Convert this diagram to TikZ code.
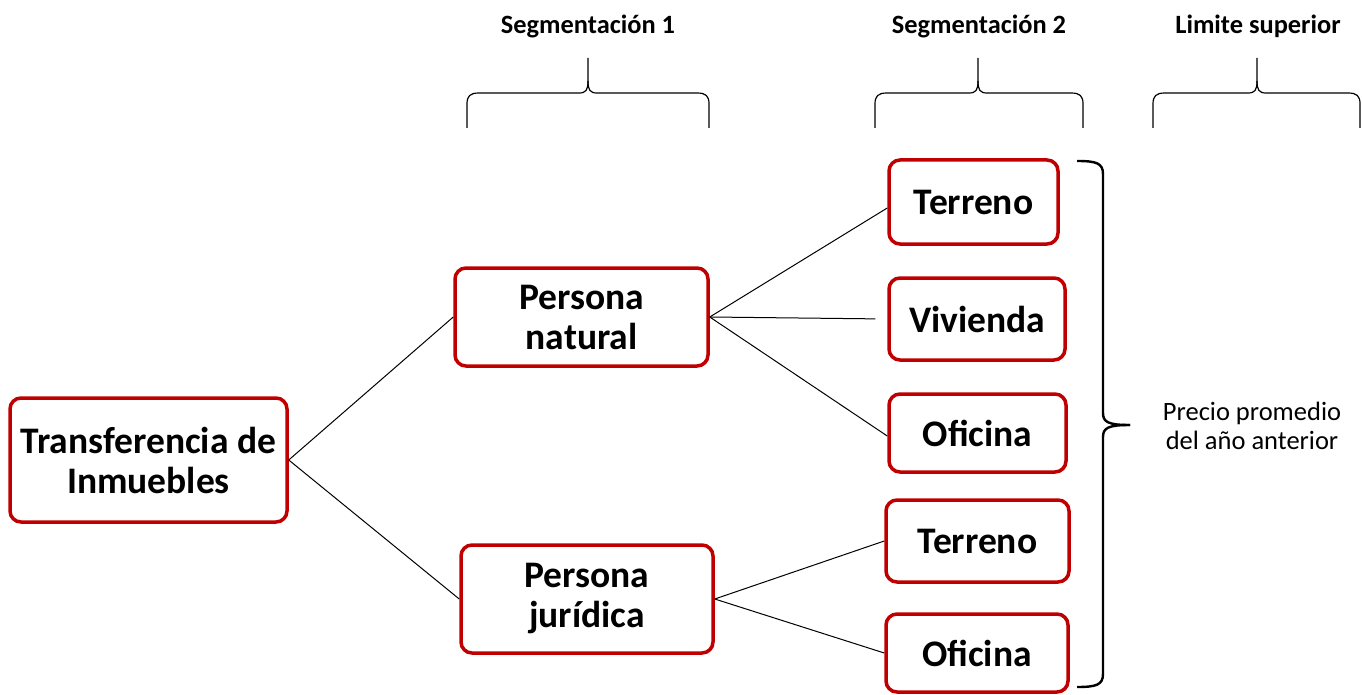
\documentclass[tikz,border=0pt]{standalone}
\usepackage{fontspec}
\setmainfont{Carlito}
\definecolor{boxred}{RGB}{192,0,0}
\newcommand{\topbrace}[3]{%
  \draw[bracestyle] (#1,128) -- (#1,104) .. controls (#1,96) and (#1+3,93) .. (#1+12,93)
    -- (#2-9,93) .. controls (#2-2,93) and (#2,90) .. (#2,81) -- (#2,58);
  \draw[bracestyle] (#2,81) .. controls (#2,90) and (#2+2,93) .. (#2+9,93)
    -- (#3-12,93) .. controls (#3-3,93) and (#3,96) .. (#3,104) -- (#3,128);}
\tikzset{
  box/.style={draw=boxred, line width=3.5pt, rounded corners=11pt, fill=white,
    align=center, font=\bfseries\fontsize{37.5}{40}\selectfont, inner sep=0pt},
  head/.style={font=\bfseries\fontsize{26.4}{29}\selectfont, inner sep=0pt},
  note/.style={font=\fontsize{26.5}{29}\selectfont, align=center, inner sep=0pt},
  link/.style={draw=black, line width=1pt},
  bracestyle/.style={draw=black, line width=1.2pt},
  bigbrace/.style={draw=black, line width=2.4pt}
}
\begin{document}
\begin{tikzpicture}[x=1pt,y=-1pt]
\useasboundingbox (0,0) rectangle (1362,695);
% headers
\node[head] (h1) at (588,26) {Segmentación 1};
\node[head] (h2) at (979,26) {Segmentación 2};
\node[head] (h3) at (1258,26) {Limite superior};
\topbrace{467}{588}{709}
\topbrace{875}{978}{1083}
\topbrace{1153}{1257}{1360}
% boxes
\node[box, minimum width=277pt, minimum height=124pt] (tr) at (148.5,460) {Transferencia de\\Inmuebles};
\node[box, minimum width=253pt, minimum height=98pt] (pn) at (581.5,317) {Persona\\natural};
\node[box, minimum width=252pt, minimum height=108pt] (pj) at (587,599) {Persona\\jurídica};
\node[box, minimum width=169pt, minimum height=84pt] (t1) at (973.5,202) {Terreno};
\node[box, minimum width=176pt, minimum height=82pt] (vi) at (977,319) {Vivienda};
\node[box, minimum width=177pt, minimum height=78pt] (o1) at (977.5,433) {Oficina};
\node[box, minimum width=183pt, minimum height=82pt] (t2) at (977.5,541) {Terreno};
\node[box, minimum width=182pt, minimum height=78pt] (o2) at (977,653) {Oficina};
% connectors
\draw[link] (tr.east) -- (pn.west);
\draw[link] (tr.east) -- (pj.west);
\draw[link] (pn.east) -- ([yshift=-6pt]t1.west);
\draw[link, shorten >=12pt] (pn.east) -- (vi.west);
\draw[link] (pn.east) -- ([yshift=-3pt]o1.west);
\draw[link] (pj.east) -- (t2.west);
\draw[link] (pj.east) -- (o2.west);
% right brace
\draw[bigbrace] (1077,161) .. controls (1096,161) and (1103,163) .. (1103,174)
  -- (1103,413) .. controls (1103,422) and (1108,425) .. (1130,425);
\draw[bigbrace] (1130,425) .. controls (1108,425) and (1103,428) .. (1103,437)
  -- (1103,674) .. controls (1103,685) and (1096,687) .. (1077,687);
\node[note] (pr) at (1252,426) {Precio promedio\\del año anterior};
\end{tikzpicture}
\end{document}
